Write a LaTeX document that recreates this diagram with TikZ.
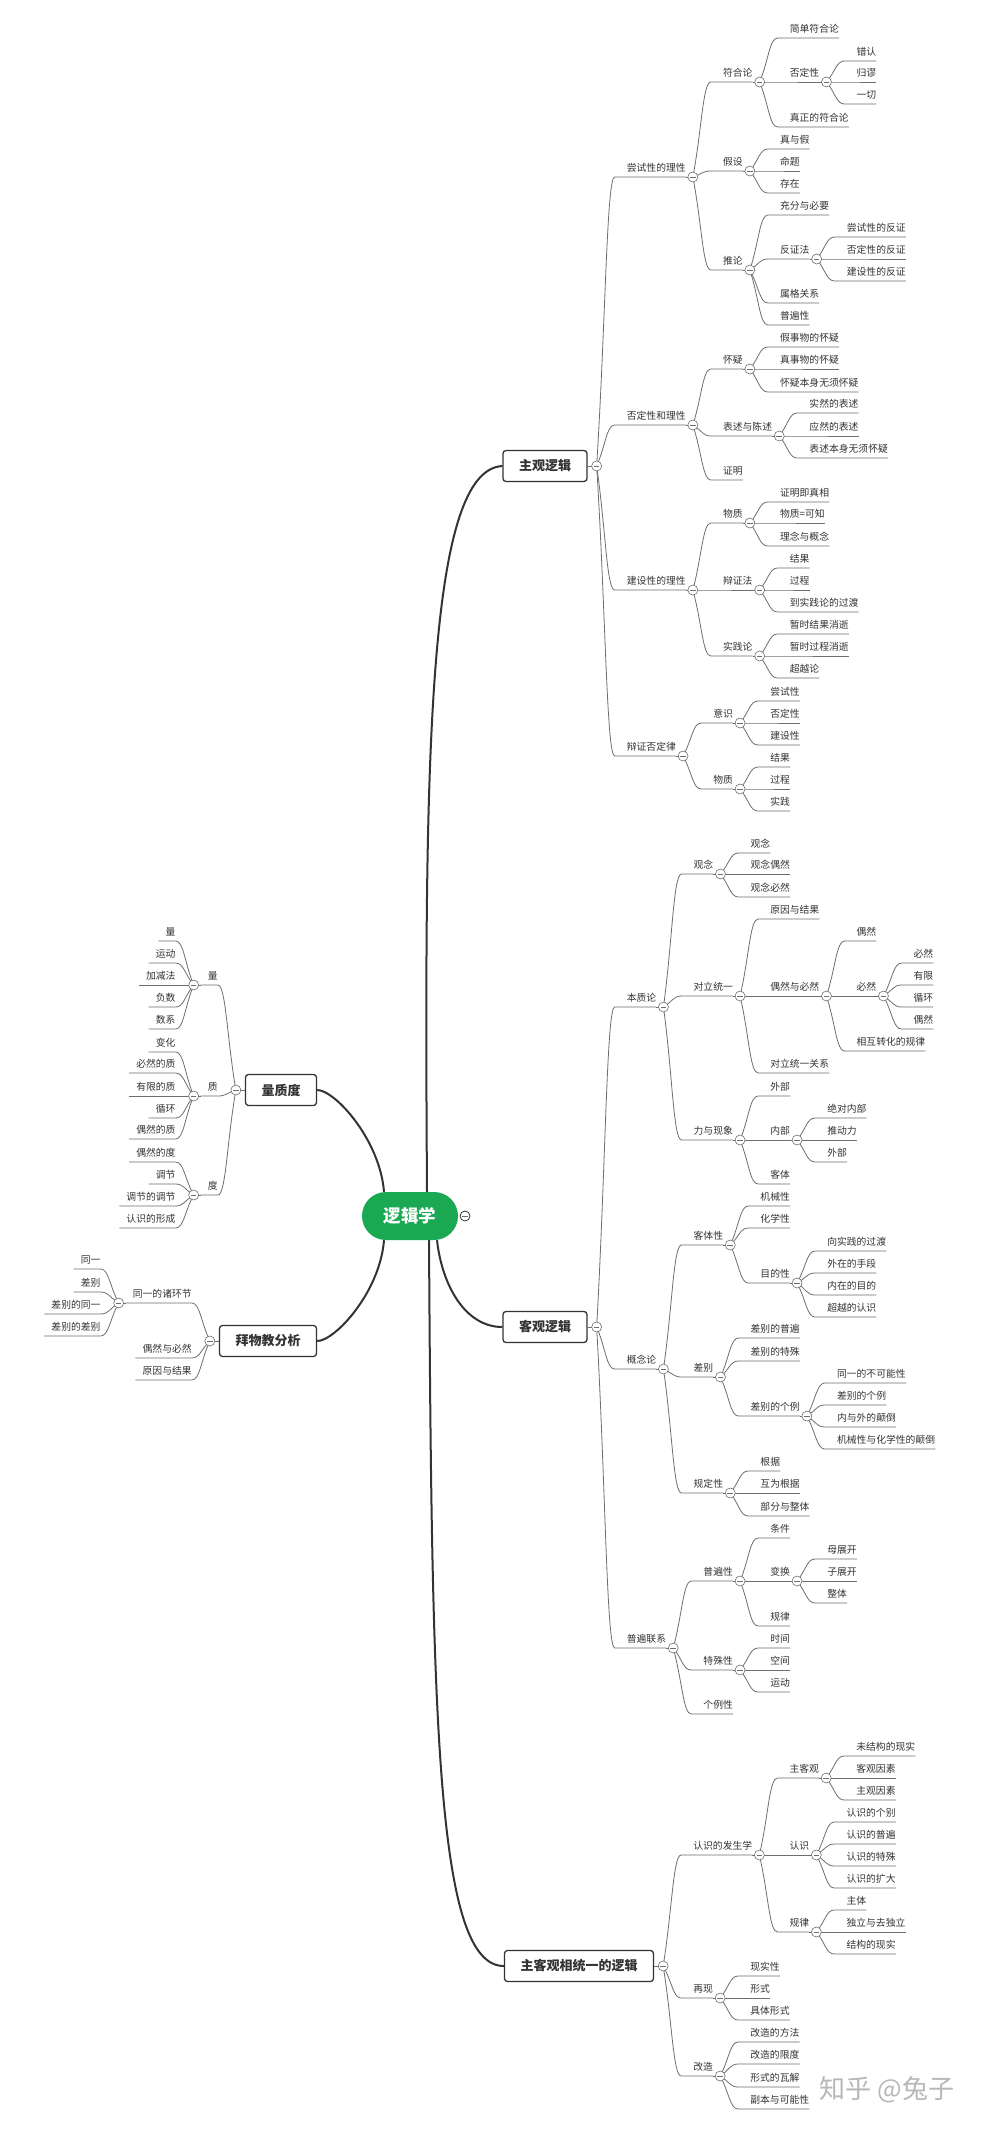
\documentclass[tikz,border=0pt]{standalone}
\usepackage{fontspec}
\setmainfont{Noto Sans CJK SC}
\usetikzlibrary{calc}
\pgfdeclarelayer{bg}
\pgfsetlayers{bg,main}
\definecolor{txt}{HTML}{333333}
\definecolor{ln}{HTML}{6E6E6E}
\definecolor{grn}{HTML}{1AA853}
\tikzset{
  tp/.style={inner xsep=0pt, inner ysep=2.5pt, text height=8pt, text depth=2.5pt,
    font=\fontsize{9.8}{12}\selectfont, text=txt},
  circ/.style={circle, draw=ln, fill=white, line width=0.6pt, minimum size=10pt, inner sep=0pt,
    path picture={\draw[ln, line width=0.6pt] ([xshift=-2.8pt]path picture bounding box.center) -- ([xshift=2.8pt]path picture bounding box.center);}},
  br/.style={draw=ln, line width=0.8pt},
  mainbox/.style={draw=txt, line width=1.3pt, rounded corners=3pt, fill=white, minimum height=31pt,
    inner xsep=16pt, font=\fontsize{13}{15}\selectfont\bfseries, text=txt},
  mbr/.style={draw=txt, line width=2pt},
}
% right-side topic: name, parent circle, underline y, text
\newcommand\tpr[4]{%
  \path (#2.center) ++(18,0) coordinate (tmpa);
  \node[tp, anchor=south west] (#1) at (tmpa |- 0,#3) {\hspace{12pt}#4\hspace{7pt}};
  \begin{pgfonlayer}{bg}
    \draw[br] (#2.center) .. controls ($(#2.center)!0.5!(#1.south west)$) and ($(#1.south west)+(-8,0)$) .. (#1.south west) -- (#1.south east);
  \end{pgfonlayer}}
\newcommand\cir[1]{%
  \node[circ] (#1c) at ($(#1.south east)+(7,0)$) {};
  \begin{pgfonlayer}{bg}\draw[br] (#1.south east) -- (#1c.center);\end{pgfonlayer}}
% left-side topic
\newcommand\tpl[4]{%
  \path (#2.center) ++(-18,0) coordinate (tmpa);
  \node[tp, anchor=south east] (#1) at (tmpa |- 0,#3) {\hspace{7pt}#4\hspace{12pt}};
  \begin{pgfonlayer}{bg}
    \draw[br] (#2.center) .. controls ($(#2.center)!0.5!(#1.south east)$) and ($(#1.south east)+(8,0)$) .. (#1.south east) -- (#1.south west);
  \end{pgfonlayer}}
\newcommand\cirl[1]{%
  \node[circ] (#1c) at ($(#1.south west)+(-7,0)$) {};
  \begin{pgfonlayer}{bg}\draw[br] (#1.south west) -- (#1c.center);\end{pgfonlayer}}
\begin{document}
\begin{tikzpicture}[x=1pt, y=-1pt]
\useasboundingbox (0,0) rectangle (990,2130);
\begin{pgfonlayer}{bg}
\fill[white] (0,0) rectangle (990,2130);
\end{pgfonlayer}

% root
\node[fill=grn, rounded corners=24pt, minimum width=96pt, minimum height=48pt, inner sep=0pt,
  text=white, font=\fontsize{17.5}{20}\selectfont\bfseries] (R) at (410,1216) {逻辑学};
\node[circ, draw=txt, line width=0.8pt] (Rc) at (465,1216) {};

% main topics
\node[mainbox] (S) at (545,466) {主观逻辑};
\node[mainbox] (O) at (545,1327) {客观逻辑};
\node[mainbox] (U) at (579,1966) {主客观相统一的逻辑};
\node[mainbox] (Q) at (281,1090) {量质度};
\node[mainbox] (F) at (268,1341) {拜物教分析};
\foreach \m in {S,O,U} {
  \node[circ] (\m c) at ($(\m.east)+(9,0)$) {};
  \begin{pgfonlayer}{bg}\draw[br] (\m.east) -- (\m c.center);\end{pgfonlayer}
}
\foreach \m in {Q,F} {
  \node[circ] (\m c) at ($(\m.west)+(-9,0)$) {};
  \begin{pgfonlayer}{bg}\draw[br] (\m.west) -- (\m c.center);\end{pgfonlayer}
}

\begin{pgfonlayer}{bg}
\draw[mbr] ([xshift=17pt]R.north) .. controls (424,750) and (428,470) .. (S.west);
\draw[mbr] ([xshift=27pt]R.south) .. controls (442,1285) and (465,1327) .. (O.west);
\draw[mbr] ([xshift=19pt]R.south) .. controls (432,1720) and (436,1966) .. (U.west);
\draw[mbr] ([xshift=-26pt]R.north) .. controls (380,1140) and (335,1090) .. (Q.east);
\draw[mbr] ([xshift=-26pt]R.south) .. controls (380,1292) and (335,1341) .. (F.east);
\end{pgfonlayer}

% ---------- 主观逻辑 ----------
\tpr{A1}{Sc}{177}{尝试性的理性}\cir{A1}
\tpr{A11}{A1c}{82}{符合论}\cir{A11}
\tpr{A111}{A11c}{38}{简单符合论}
\tpr{A112}{A11c}{82}{否定性}\cir{A112}
\tpr{A1121}{A112c}{61}{错认}
\tpr{A1122}{A112c}{82}{归谬}
\tpr{A1123}{A112c}{104}{一切}
\tpr{A113}{A11c}{127}{真正的符合论}
\tpr{A12}{A1c}{171}{假设}\cir{A12}
\tpr{A121}{A12c}{149}{真与假}
\tpr{A122}{A12c}{171}{命题}
\tpr{A123}{A12c}{193}{存在}
\tpr{A13}{A1c}{270}{推论}\cir{A13}
\tpr{A131}{A13c}{215}{充分与必要}
\tpr{A132}{A13c}{259}{反证法}\cir{A132}
\tpr{A1321}{A132c}{237}{尝试性的反证}
\tpr{A1322}{A132c}{259}{否定性的反证}
\tpr{A1323}{A132c}{281}{建设性的反证}
\tpr{A133}{A13c}{303}{属格关系}
\tpr{A134}{A13c}{325}{普遍性}

\tpr{A2}{Sc}{425}{否定性和理性}\cir{A2}
\tpr{A21}{A2c}{369}{怀疑}\cir{A21}
\tpr{A211}{A21c}{347}{假事物的怀疑}
\tpr{A212}{A21c}{369}{真事物的怀疑}
\tpr{A213}{A21c}{392}{怀疑本身无须怀疑}
\tpr{A22}{A2c}{436}{表述与陈述}\cir{A22}
\tpr{A221}{A22c}{413}{实然的表述}
\tpr{A222}{A22c}{436}{应然的表述}
\tpr{A223}{A22c}{458}{表述本身无须怀疑}
\tpr{A23}{A2c}{480}{证明}

\tpr{A3}{Sc}{590}{建设性的理性}\cir{A3}
\tpr{A31}{A3c}{523}{物质}\cir{A31}
\tpr{A311}{A31c}{502}{证明即真相}
\tpr{A312}{A31c}{523}{物质=可知}
\tpr{A313}{A31c}{546}{理念与概念}
\tpr{A32}{A3c}{590}{辩证法}\cir{A32}
\tpr{A321}{A32c}{568}{结果}
\tpr{A322}{A32c}{590}{过程}
\tpr{A323}{A32c}{612}{到实践论的过渡}
\tpr{A33}{A3c}{656}{实践论}\cir{A33}
\tpr{A331}{A33c}{634}{暂时结果消逝}
\tpr{A332}{A33c}{656}{暂时过程消逝}
\tpr{A333}{A33c}{678}{超越论}

\tpr{A4}{Sc}{756}{辩证否定律}\cir{A4}
\tpr{A41}{A4c}{723}{意识}\cir{A41}
\tpr{A411}{A41c}{701}{尝试性}
\tpr{A412}{A41c}{723}{否定性}
\tpr{A413}{A41c}{745}{建设性}
\tpr{A42}{A4c}{789}{物质}\cir{A42}
\tpr{A421}{A42c}{767}{结果}
\tpr{A422}{A42c}{789}{过程}
\tpr{A423}{A42c}{811}{实践}

% ---------- 客观逻辑 ----------
\tpr{B1}{Oc}{1007}{本质论}\cir{B1}
\tpr{B11}{B1c}{874}{观念}\cir{B11}
\tpr{B111}{B11c}{853}{观念}
\tpr{B112}{B11c}{874}{观念偶然}
\tpr{B113}{B11c}{897}{观念必然}
\tpr{B12}{B1c}{996}{对立统一}\cir{B12}
\tpr{B121}{B12c}{919}{原因与结果}
\tpr{B122}{B12c}{996}{偶然与必然}\cir{B122}
\tpr{B1221}{B122c}{941}{偶然}
\tpr{B1222}{B122c}{996}{必然}\cir{B1222}
\tpr{B12221}{B1222c}{963}{必然}
\tpr{B12222}{B1222c}{985}{有限}
\tpr{B12223}{B1222c}{1007}{循环}
\tpr{B12224}{B1222c}{1029}{偶然}
\tpr{B1223}{B122c}{1051}{相互转化的规律}
\tpr{B123}{B12c}{1073}{对立统一关系}
\tpr{B13}{B1c}{1140}{力与现象}\cir{B13}
\tpr{B131}{B13c}{1096}{外部}
\tpr{B132}{B13c}{1140}{内部}\cir{B132}
\tpr{B1321}{B132c}{1118}{绝对内部}
\tpr{B1322}{B132c}{1140}{推动力}
\tpr{B1323}{B132c}{1162}{外部}
\tpr{B133}{B13c}{1184}{客体}

\tpr{B2}{Oc}{1369}{概念论}\cir{B2}
\tpr{B21}{B2c}{1245}{客体性}\cir{B21}
\tpr{B211}{B21c}{1206}{机械性}
\tpr{B212}{B21c}{1228}{化学性}
\tpr{B213}{B21c}{1283}{目的性}\cir{B213}
\tpr{B2131}{B213c}{1251}{向实践的过渡}
\tpr{B2132}{B213c}{1273}{外在的手段}
\tpr{B2133}{B213c}{1295}{内在的目的}
\tpr{B2134}{B213c}{1317}{超越的认识}
\tpr{B22}{B2c}{1377}{差别}\cir{B22}
\tpr{B221}{B22c}{1338}{差别的普遍}
\tpr{B222}{B22c}{1361}{差别的特殊}
\tpr{B223}{B22c}{1416}{差别的个例}\cir{B223}
\tpr{B2231}{B223c}{1383}{同一的不可能性}
\tpr{B2232}{B223c}{1405}{差别的个例}
\tpr{B2233}{B223c}{1427}{内与外的颠倒}
\tpr{B2234}{B223c}{1449}{机械性与化学性的颠倒}
\tpr{B23}{B2c}{1493}{规定性}\cir{B23}
\tpr{B231}{B23c}{1471}{根据}
\tpr{B232}{B23c}{1493}{互为根据}
\tpr{B233}{B23c}{1516}{部分与整体}

\tpr{B3}{Oc}{1648}{普遍联系}\cir{B3}
\tpr{B31}{B3c}{1581}{普遍性}\cir{B31}
\tpr{B311}{B31c}{1538}{条件}
\tpr{B312}{B31c}{1581}{变换}\cir{B312}
\tpr{B3121}{B312c}{1559}{母展开}
\tpr{B3122}{B312c}{1581}{子展开}
\tpr{B3123}{B312c}{1603}{整体}
\tpr{B313}{B31c}{1626}{规律}
\tpr{B32}{B3c}{1670}{特殊性}\cir{B32}
\tpr{B321}{B32c}{1648}{时间}
\tpr{B322}{B32c}{1670}{空间}
\tpr{B323}{B32c}{1692}{运动}
\tpr{B33}{B3c}{1714}{个例性}

% ---------- 主客观相统一的逻辑 ----------
\tpr{C1}{Uc}{1855}{认识的发生学}\cir{C1}
\tpr{C11}{C1c}{1778}{主客观}\cir{C11}
\tpr{C111}{C11c}{1756}{未结构的现实}
\tpr{C112}{C11c}{1778}{客观因素}
\tpr{C113}{C11c}{1800}{主观因素}
\tpr{C12}{C1c}{1855}{认识}\cir{C12}
\tpr{C121}{C12c}{1822}{认识的个别}
\tpr{C122}{C12c}{1844}{认识的普遍}
\tpr{C123}{C12c}{1866}{认识的特殊}
\tpr{C124}{C12c}{1888}{认识的扩大}
\tpr{C13}{C1c}{1932}{规律}\cir{C13}
\tpr{C131}{C13c}{1910}{主体}
\tpr{C132}{C13c}{1932}{独立与去独立}
\tpr{C133}{C13c}{1954}{结构的现实}
\tpr{C2}{Uc}{1998}{再现}\cir{C2}
\tpr{C21}{C2c}{1976}{现实性}
\tpr{C22}{C2c}{1998}{形式}
\tpr{C23}{C2c}{2020}{具体形式}
\tpr{C3}{Uc}{2076}{改造}\cir{C3}
\tpr{C31}{C3c}{2042}{改造的方法}
\tpr{C32}{C3c}{2064}{改造的限度}
\tpr{C33}{C3c}{2087}{形式的瓦解}
\tpr{C34}{C3c}{2109}{副本与可能性}

% ---------- 量质度 ----------
\tpl{Q1}{Qc}{985}{量}\cirl{Q1}
\tpl{Q11}{Q1c}{941}{量}
\tpl{Q12}{Q1c}{963}{运动}
\tpl{Q13}{Q1c}{985}{加减法}
\tpl{Q14}{Q1c}{1007}{负数}
\tpl{Q15}{Q1c}{1029}{数系}
\tpl{Q2}{Qc}{1096}{质}\cirl{Q2}
\tpl{Q21}{Q2c}{1052}{变化}
\tpl{Q22}{Q2c}{1073}{必然的质}
\tpl{Q23}{Q2c}{1096}{有限的质}
\tpl{Q24}{Q2c}{1118}{循环}
\tpl{Q25}{Q2c}{1139}{偶然的质}
\tpl{Q3}{Qc}{1195}{度}\cirl{Q3}
\tpl{Q31}{Q3c}{1162}{偶然的度}
\tpl{Q32}{Q3c}{1184}{调节}
\tpl{Q33}{Q3c}{1206}{调节的调节}
\tpl{Q34}{Q3c}{1228}{认识的形成}

% ---------- 拜物教分析 ----------
\tpl{F1}{Fc}{1303}{同一的诸环节}\cirl{F1}
\tpl{F11}{F1c}{1269}{同一}
\tpl{F12}{F1c}{1292}{差别}
\tpl{F13}{F1c}{1314}{差别的同一}
\tpl{F14}{F1c}{1336}{差别的差别}
\tpl{F2}{Fc}{1358}{偶然与必然}
\tpl{F3}{Fc}{1380}{原因与结果}

% watermark
\node[text=black!35, opacity=0.8, font=\fontsize{26}{28}\selectfont] (wm) at (887,2090) {知乎 @兔子};
\end{tikzpicture}
\end{document}
